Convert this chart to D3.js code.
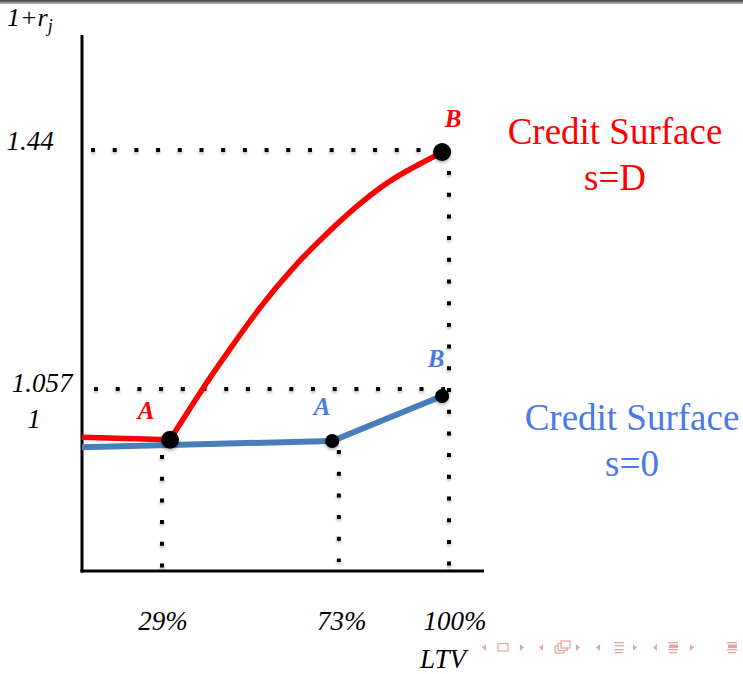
<!DOCTYPE html>
<html><head><meta charset="utf-8">
<script src="https://cdn.jsdelivr.net/npm/d3@7"></script>
<style>html,body{margin:0;padding:0;background:#fff;}svg{display:block;font-family:"Liberation Serif","Times New Roman",Times,serif;}</style>
</head><body>
<svg id="chart" width="743" height="674"></svg>
<script>
// ---- data ----
const xTickValues = [0.29, 0.73, 1.00];
const xTickLabels = ["29%", "73%", "100%"];
const yTickValues = [1.44, 1.057, 1];
const yTickLabels = ["1.44", "1.057", "1"];

// Credit surface s=D (red): flat part then concave rise
const redFlatLTV   = [0.092, 0.310];
const redFlatValue = [0.979, 0.975];
const redCurveLTV   = [0.310, 0.391, 0.451, 0.532, 0.614, 0.698, 0.780, 0.861, 0.946, 0.983];
const redCurveValue = [0.975, 1.059, 1.115, 1.190, 1.254, 1.309, 1.358, 1.398, 1.427, 1.440];

// Credit surface s=0 (blue)
const blueLTV   = [0.092, 0.310, 0.711, 0.983];
const blueValue = [0.963, 0.9665, 0.973, 1.0457];

// Key points A, B on each surface
const redPointLTV   = [0.310, 0.983];
const redPointValue = [0.975, 1.440];
const redPointNames = ["A", "B"];
const bluePointLTV   = [0.711, 0.983];
const bluePointValue = [0.973, 1.0457];
const bluePointNames = ["A", "B"];

// ---- drawing ----
const svg = d3.select("#chart");
const x = d3.scaleLinear().domain([0.29, 1.00]).range([162, 449]);
const y = d3.scaleLinear().domain([1.057, 1.44]).range([389, 152]);

const RED = "#ff0000", BLUE_LINE = "#4a7ebb", BLUE_TXT = "#4a78e6";

const defs = svg.append("defs");
const g = defs.append("linearGradient").attr("id", "topbar").attr("x1", 0).attr("x2", 0).attr("y1", 0).attr("y2", 1);
g.append("stop").attr("offset", "0%").attr("stop-color", "#3a3a3a");
g.append("stop").attr("offset", "100%").attr("stop-color", "#bdbdbd");
const f = defs.append("filter").attr("id", "shadow").attr("x", "-50%").attr("y", "-50%").attr("width", "200%").attr("height", "200%");
f.append("feDropShadow").attr("dx", 0).attr("dy", 2).attr("stdDeviation", 1.4).attr("flood-color", "#000").attr("flood-opacity", 0.3);

svg.append("rect").attr("x", 0).attr("y", 0).attr("width", 743).attr("height", 4).attr("fill", "url(#topbar)");

// axes frame
const xLeft = 82, yBottom = 571;
svg.append("line").attr("x1", xLeft).attr("x2", xLeft).attr("y1", 35).attr("y2", yBottom + 1.5)
  .attr("stroke", "#000").attr("stroke-width", 3);
svg.append("line").attr("x1", xLeft - 1.5).attr("x2", 484).attr("y1", yBottom).attr("y2", yBottom)
  .attr("stroke", "#000").attr("stroke-width", 3);

// dotted guide lines
const dots = svg.append("g").attr("filter", "url(#shadow)")
  .attr("stroke", "#000").attr("stroke-width", 4).attr("stroke-dasharray", "4 17.7").attr("fill", "none");
dots.append("line").attr("x1", 91).attr("x2", 425).attr("y1", y(1.44) - 2).attr("y2", y(1.44) - 2);
dots.append("line").attr("x1", 94).attr("x2", 445).attr("y1", y(1.057)).attr("y2", y(1.057));
dots.append("line").attr("x1", x(0.29)).attr("x2", x(0.29)).attr("y1", 455).attr("y2", yBottom);
dots.append("line").attr("x1", x(0.73) - 1).attr("x2", x(0.73) - 1).attr("y1", 450).attr("y2", 562);
dots.append("line").attr("x1", x(1.00)).attr("x2", x(1.00)).attr("y1", 171).attr("y2", yBottom);

// lines
const lin = d3.line().x(d => x(d[0])).y(d => y(d[1]));
const smooth = d3.line().x(d => x(d[0])).y(d => y(d[1])).curve(d3.curveBasis);
const zip = (a, b) => a.map((v, i) => [v, b[i]]);

svg.append("path").datum(zip(blueLTV, blueValue)).attr("d", lin)
  .attr("fill", "none").attr("stroke", BLUE_LINE).attr("stroke-width", 6).attr("stroke-linejoin", "round");
svg.append("path").datum(zip(redFlatLTV, redFlatValue)).attr("d", lin)
  .attr("fill", "none").attr("stroke", RED).attr("stroke-width", 5.5);
svg.append("path").datum(zip(redCurveLTV, redCurveValue)).attr("d", smooth)
  .attr("fill", "none").attr("stroke", RED).attr("stroke-width", 5.5).attr("stroke-linecap", "round");

// points
const pts = svg.append("g").attr("filter", "url(#shadow)");
pts.selectAll("circle.r").data(zip(redPointLTV, redPointValue)).join("circle")
  .attr("cx", d => x(d[0])).attr("cy", d => y(d[1])).attr("r", 9).attr("fill", "#000");
pts.selectAll("circle.b").data(zip(bluePointLTV, bluePointValue)).join("circle")
  .attr("cx", d => x(d[0])).attr("cy", d => y(d[1])).attr("r", 7).attr("fill", "#000");

// point labels
const lab = (txt, px, py, col) => svg.append("text").attr("x", px).attr("y", py).text(txt)
  .style("font-style", "italic").style("font-weight", "bold")
  .style("font-size", "25px").attr("fill", col).attr("text-anchor", "middle");
lab(redPointNames[0], x(redPointLTV[0]) - 24, y(redPointValue[0]) - 21, RED);
lab(redPointNames[1], x(redPointLTV[1]) + 11, y(redPointValue[1]) - 25, RED);
lab(bluePointNames[0], x(bluePointLTV[0]) - 10, y(bluePointValue[0]) - 26, BLUE_TXT);
lab(bluePointNames[1], x(bluePointLTV[1]) - 6, y(bluePointValue[1]) - 29, BLUE_TXT);

// tick labels
const tickStyle = sel => sel.style("font-style", "italic").style("font-size", "27px").attr("fill", "#000");
svg.selectAll("text.xt").data(xTickValues).join("text")
  .attr("x", (d, i) => x(d) + [1, 2, 6][i]).attr("y", 630).attr("text-anchor", "middle")
  .text((d, i) => xTickLabels[i]).call(tickStyle);
const yOffsets = [-2, 3, 4];
const yX = [30, 42, 34];
svg.selectAll("text.yt").data(yTickValues).join("text")
  .attr("x", (d, i) => yX[i]).attr("y", (d, i) => y(d) + yOffsets[i]).attr("text-anchor", "middle")
  .text((d, i) => yTickLabels[i]).call(tickStyle);

// axis titles
const yt = svg.append("text").attr("x", 7).attr("y", 26).call(tickStyle).style("font-size", "26px");
yt.append("tspan").text("1+r");
yt.append("tspan").style("font-size", "18px").attr("dy", 6).text("j");
svg.append("text").attr("x", 443).attr("y", 668).attr("text-anchor", "middle").text("LTV").call(tickStyle);

// legends
const leg = (lines, cx, y0, col) => lines.forEach((t, i) => svg.append("text")
  .attr("x", cx).attr("y", y0 + i * 46).attr("text-anchor", "middle").text(t)
  .style("font-size", "37px").attr("fill", col));
leg(["Credit Surface", "s=D"], 615, 144, RED);
leg(["Credit Surface", "s=0"], 632, 430, BLUE_TXT);

// beamer navigation symbols
const NAV = "#e3a5a5";
const nav = svg.append("g").attr("fill", NAV).attr("stroke", "none");
const triL = cx => nav.append("path").attr("d", `M${cx+2},${644} L${cx-2},${647.5} L${cx+2},${651} Z`);
const triR = cx => nav.append("path").attr("d", `M${cx-2},${644} L${cx+2},${647.5} L${cx-2},${651} Z`);
triL(484); triR(522); triL(541); triR(578); triL(598); triR(635); triL(655); triR(692);
nav.append("rect").attr("x", 498).attr("y", 643.5).attr("width", 10).attr("height", 7.5)
  .attr("fill", "none").attr("stroke", NAV).attr("stroke-width", 1.2);
[[555,646],[558,643.5],[561,641]].forEach(([a,b]) => nav.append("rect").attr("x", a).attr("y", b).attr("width", 9).attr("height", 7)
  .attr("fill", "#fff").attr("stroke", NAV).attr("stroke-width", 1.2));
const menu = (cx, bold) => {
  nav.append("rect").attr("x", cx-5).attr("y", 642).attr("width", 10).attr("height", 1.3);
  nav.append("rect").attr("x", cx-4).attr("y", bold ? 644.5 : 645).attr("width", 9).attr("height", bold ? 3.5 : 1.3);
  nav.append("rect").attr("x", cx-5).attr("y", 649).attr("width", 10).attr("height", 1.3);
  nav.append("rect").attr("x", cx-4).attr("y", 652).attr("width", 8).attr("height", 1.3);
};
menu(619, false); menu(673, true); menu(732, true);
</script>
</body></html>
